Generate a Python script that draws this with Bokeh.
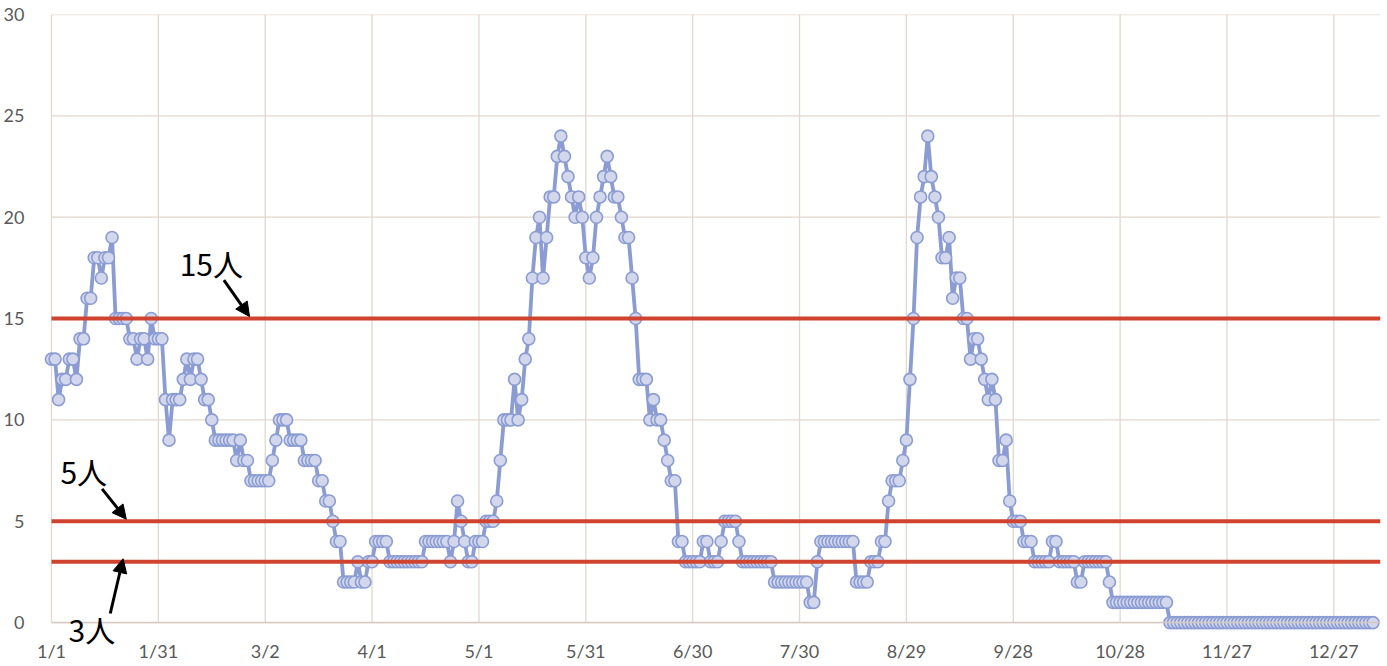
from bokeh.plotting import figure
from bokeh.models import FixedTicker, Arrow, NormalHead, Label, Range1d, ColumnDataSource
from bokeh.embed import file_html
from bokeh.resources import INLINE

# daily values (day index 0 = 1/1)
values = [
    13, 13, 11, 12, 12, 13, 13, 12, 14, 14, 16, 16, 18, 18, 17, 18, 18, 19, 15, 15,
    15, 15, 14, 14, 13, 14, 14, 13, 15, 14, 14, 14, 11, 9, 11, 11, 11, 12, 13, 12,
    13, 13, 12, 11, 11, 10, 9, 9, 9, 9, 9, 9, 8, 9, 8, 8, 7, 7, 7, 7,
    7, 7, 8, 9, 10, 10, 10, 9, 9, 9, 9, 8, 8, 8, 8, 7, 7, 6, 6, 5,
    4, 4, 2, 2, 2, 2, 3, 2, 2, 3, 3, 4, 4, 4, 4, 3, 3, 3, 3, 3,
    3, 3, 3, 3, 3, 4, 4, 4, 4, 4, 4, 4, 3, 4, 6, 5, 4, 3, 3, 4,
    4, 4, 5, 5, 5, 6, 8, 10, 10, 10, 12, 10, 11, 13, 14, 17, 19, 20, 17, 19,
    21, 21, 23, 24, 23, 22, 21, 20, 21, 20, 18, 17, 18, 20, 21, 22, 23, 22, 21, 21,
    20, 19, 19, 17, 15, 12, 12, 12, 10, 11, 10, 10, 9, 8, 7, 7, 4, 4, 3, 3,
    3, 3, 3, 4, 4, 3, 3, 3, 4, 5, 5, 5, 5, 4, 3, 3, 3, 3, 3, 3,
    3, 3, 3, 2, 2, 2, 2, 2, 2, 2, 2, 2, 2, 1, 1, 3, 4, 4, 4, 4,
    4, 4, 4, 4, 4, 4, 2, 2, 2, 2, 3, 3, 3, 4, 4, 6, 7, 7, 7, 8,
    9, 12, 15, 19, 21, 22, 24, 22, 21, 20, 18, 18, 19, 16, 17, 17, 15, 15, 13, 14,
    14, 13, 12, 11, 12, 11, 8, 8, 9, 6, 5, 5, 5, 4, 4, 4, 3, 3, 3, 3,
    3, 4, 4, 3, 3, 3, 3, 3, 2, 2, 3, 3, 3, 3, 3, 3, 3, 2, 1, 1,
    1, 1, 1, 1, 1, 1, 1, 1, 1, 1, 1, 1, 1, 1, 0, 0, 0, 0, 0, 0,
    0, 0, 0, 0, 0, 0, 0, 0, 0, 0, 0, 0, 0, 0, 0, 0, 0, 0, 0, 0,
    0, 0, 0, 0, 0, 0, 0, 0, 0, 0, 0, 0, 0, 0, 0, 0, 0, 0, 0, 0,
    0, 0, 0, 0, 0, 0, 0, 0, 0, 0, 0, 0,
]
days = list(range(len(values)))

tick_days = [0, 30, 60, 90, 120, 150, 180, 210, 240, 270, 300, 330, 360]
tick_labels = ["1/1", "1/31", "3/2", "4/1", "5/1", "5/31", "6/30",
               "7/30", "8/29", "9/28", "10/28", "11/27", "12/27"]
y_ticks = [0, 5, 10, 15, 20, 25, 30]

thresholds = [15, 5, 3]
threshold_labels = ["15人", "5人", "3人"]

FONT = "Lato"
GRID = "#E1D8CF"
X0, X1 = 0.0, 373.1   # extent of the plotting area along the day axis

# the frame reaches a little left of day 0 and below 0 so that the "1/1" label
# and the "3人" note under the axis stay inside the drawable area
p = figure(width=1387, height=666, output_backend="svg", toolbar_location=None,
           x_range=Range1d(-5.33, X1), y_range=Range1d(-2.166, 30),
           min_border_left=30, min_border_right=7, min_border_top=14, min_border_bottom=0)
p.outline_line_color = None
p.background_fill_color = "white"
p.xgrid.visible = False
p.ygrid.visible = False

p.xaxis.fixed_location = 0
p.xaxis.bounds = (X0, X1)
p.xaxis.ticker = FixedTicker(ticks=tick_days)
p.xaxis.major_label_overrides = {d: l for d, l in zip(tick_days, tick_labels)}
p.yaxis.ticker = FixedTicker(ticks=y_ticks)
for ax in (p.xaxis, p.yaxis):
    ax.major_tick_line_color = None
    ax.minor_tick_line_color = None
    ax.major_label_text_font = FONT
    ax.major_label_text_font_size = "18px"
    ax.major_label_text_color = "#595959"
p.xaxis.axis_line_color = "#D4CAC2"
p.xaxis.axis_line_width = 1.5
p.xaxis.major_label_standoff = 11
p.yaxis.axis_line_color = None
p.yaxis.major_label_standoff = 2

# grid lines limited to the plotting area
n_x, n_y = len(tick_days), len(y_ticks)
p.segment(x0=tick_days, y0=[y_ticks[0]] * n_x, x1=tick_days, y1=[y_ticks[-1]] * n_x,
          line_color=GRID, line_width=1.3)
p.segment(x0=[X0] * n_y, y0=y_ticks, x1=[X1] * n_y, y1=y_ticks,
          line_color=GRID, line_width=1.3)

src = ColumnDataSource(dict(day=days, value=values))
p.line("day", "value", source=src, line_color="#8A9CD3", line_width=3.8)
p.scatter("day", "value", source=src, marker="circle", size=12,
          fill_color="#D2D7EC", line_color="#8A9CD3", line_width=1.6)

n_t = len(thresholds)
p.segment(x0=[X0] * n_t, y0=thresholds, x1=[X1] * n_t, y1=thresholds,
          line_color="#D0432F", line_width=4)

label_pos = {"15人": (36.0, 17.76), "5人": (2.5, 7.5), "3人": (4.8, -0.3)}
for txt in threshold_labels:
    x, y = label_pos[txt]
    p.add_layout(Label(x=x, y=y, text=txt, text_font="Noto Sans CJK JP",
                       text_font_size="30px", text_color="black",
                       text_baseline="middle", text_align="left"))

arrows = [((48.4, 16.9), (55.6, 15.1)), ((14.2, 6.6), (21.0, 5.1)), ((16.5, 0.45), (20.1, 3.15))]
for (xs, ys), (xe, ye) in arrows:
    p.add_layout(Arrow(end=NormalHead(size=14, fill_color="black", line_color="black"),
                       x_start=xs, y_start=ys, x_end=xe, y_end=ye,
                       line_color="black", line_width=3))

open("out.html", "w").write(file_html(p, INLINE))
